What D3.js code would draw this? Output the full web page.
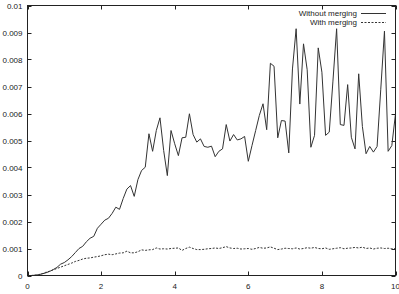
<!DOCTYPE html>
<html>
<head>
<meta charset="utf-8">
<script src="https://cdn.jsdelivr.net/npm/d3@7"></script>
<style>
  body { margin: 0; background: #fff; }
  svg text { font-family: "Liberation Sans", Arial, sans-serif; font-size: 8px; fill: #222; }
</style>
</head>
<body>
<svg id="chart" width="399" height="294"></svg>
<script>
// x positions 0, 0.1, ..., 10
const xs = d3.range(101).map(i => i / 10);

// values, in units of 1e-3
const withoutMerging = [
  0, 0, 0.01, 0.03, 0.06, 0.10, 0.15, 0.22, 0.30, 0.42,
  0.48, 0.58, 0.70, 0.85, 1.00, 1.08, 1.25, 1.38, 1.45, 1.75,
  1.90, 2.05, 2.12, 2.30, 2.53, 2.45, 2.85, 3.20, 3.33, 2.93,
  3.55, 3.89, 4.01, 5.25, 4.60, 5.37, 5.84, 4.63, 3.70, 5.37,
  4.88, 4.44, 5.10, 5.12, 5.99, 5.22, 4.94, 5.06, 4.78, 4.75,
  4.79, 4.40, 4.60, 4.69, 5.59, 4.98, 5.22, 5.02, 5.06, 5.15,
  4.23, 4.81, 5.37, 5.93, 6.36, 5.40, 7.86, 7.75, 5.10, 5.74,
  5.72, 4.54, 7.65, 9.14, 6.35, 8.58, 7.62, 4.75, 5.19, 8.43,
  7.53, 5.19, 5.31, 7.20, 9.14, 5.59, 5.56, 7.07, 5.12, 4.69,
  7.47, 5.52, 4.51, 4.78, 4.57, 4.78, 6.90, 9.05, 4.60, 4.81,
  5.99
];

const withMerging = [
  0, 0, 0.01, 0.03, 0.07, 0.12, 0.16, 0.21, 0.26, 0.31,
  0.36, 0.41, 0.46, 0.52, 0.56, 0.61, 0.64, 0.65, 0.68, 0.70,
  0.73, 0.77, 0.79, 0.77, 0.80, 0.83, 0.84, 0.90, 0.84, 0.84,
  0.88, 0.95, 0.93, 0.95, 0.96, 1.02, 0.98, 0.99, 0.98, 1.00,
  1.01, 1.02, 0.93, 1.00, 1.05, 1.00, 0.96, 0.96, 0.97, 0.99,
  1.00, 1.02, 1.00, 1.03, 1.07, 1.02, 1.00, 1.01, 0.98, 0.99,
  1.00, 0.97, 1.00, 1.04, 1.01, 1.02, 1.06, 1.01, 0.96, 0.98,
  1.01, 1.00, 0.99, 1.02, 0.98, 1.00, 1.03, 1.01, 1.04, 1.00,
  0.99, 1.02, 0.97, 0.99, 1.01, 1.03, 0.99, 1.01, 1.02, 1.04,
  1.02, 1.05, 1.00, 1.02, 0.98, 1.01, 1.02, 1.00, 1.01, 0.99,
  1.00
];

const xTicks = [0, 2, 4, 6, 8, 10];
const yTicks = d3.range(11).map(i => i / 1000);
const yTickLabels = ["0", "0.001", "0.002", "0.003", "0.004", "0.005",
                     "0.006", "0.007", "0.008", "0.009", "0.01"];
const seriesNames = ["Without merging", "With merging"];

const svg = d3.select("#chart");
const plotLeft = 27.5, plotRight = 395.5, plotTop = 5.5, plotBottom = 275.5;

const x = d3.scaleLinear().domain([0, 10]).range([plotLeft, plotRight]);
const y = d3.scaleLinear().domain([0, 0.01]).range([plotBottom, plotTop]);

const ink = "#222";
const tickLen = 4;

// inward ticks on all four sides (gnuplot style)
const axes = svg.append("g").attr("stroke", ink).attr("stroke-width", 1);
xTicks.forEach(t => {
  const px = Math.round(x(t)) + 0.5;
  axes.append("line").attr("x1", px).attr("x2", px).attr("y1", plotBottom).attr("y2", plotBottom - tickLen);
  axes.append("line").attr("x1", px).attr("x2", px).attr("y1", plotTop).attr("y2", plotTop + tickLen);
});
yTicks.forEach(t => {
  const py = Math.round(y(t)) + 0.5;
  axes.append("line").attr("x1", plotLeft).attr("x2", plotLeft + tickLen).attr("y1", py).attr("y2", py);
  axes.append("line").attr("x1", plotRight).attr("x2", plotRight - tickLen).attr("y1", py).attr("y2", py);
});

// tick labels
svg.append("g").selectAll("text")
  .data(xTicks).enter().append("text")
  .attr("x", d => x(d))
  .attr("y", plotBottom + 13)
  .attr("text-anchor", "middle")
  .text(d => d);

svg.append("g").selectAll("text")
  .data(yTicks).enter().append("text")
  .attr("x", plotLeft - 5)
  .attr("y", d => y(d) + 3)
  .attr("text-anchor", "end")
  .text((d, i) => yTickLabels[i]);

// data lines
const line = d3.line().x(d => x(d[0])).y(d => y(d[1] / 1000));

svg.append("path")
  .datum(xs.map((v, i) => [v, withoutMerging[i]]))
  .attr("d", line)
  .attr("fill", "none")
  .attr("stroke", "#333")
  .attr("stroke-width", 1);

svg.append("path")
  .datum(xs.map((v, i) => [v, withMerging[i]]))
  .attr("d", line)
  .attr("fill", "none")
  .attr("stroke", "#333")
  .attr("stroke-width", 1)
  .attr("stroke-dasharray", "2,1.5");

// legend
const dashes = [null, "2,1.5"];
seriesNames.forEach((name, i) => {
  const ly = 13 + i * 9;
  svg.append("text")
    .attr("x", 357)
    .attr("y", ly + 3)
    .attr("text-anchor", "end")
    .text(name);
  svg.append("line")
    .attr("x1", 361).attr("x2", 386)
    .attr("y1", ly + 0.5).attr("y2", ly + 0.5)
    .attr("stroke", "#333")
    .attr("stroke-width", 1)
    .attr("stroke-dasharray", dashes[i]);
});

// frame
svg.append("rect")
  .attr("x", plotLeft).attr("y", plotTop)
  .attr("width", plotRight - plotLeft).attr("height", plotBottom - plotTop)
  .attr("fill", "none")
  .attr("stroke", ink)
  .attr("stroke-width", 1);
</script>
</body>
</html>
